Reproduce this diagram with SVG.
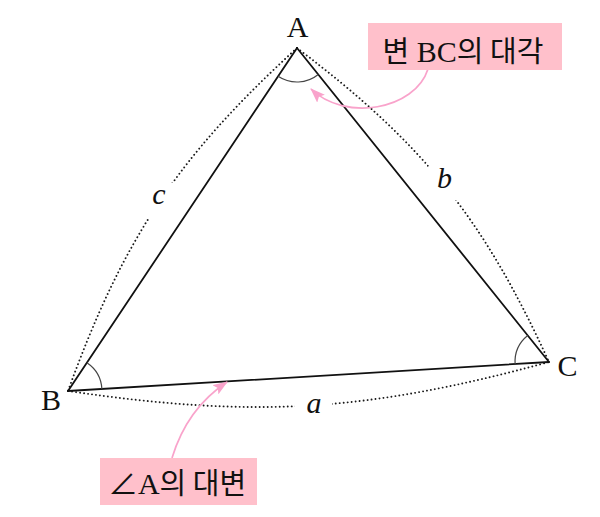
<svg xmlns="http://www.w3.org/2000/svg" width="600" height="517" viewBox="0 0 600 517">
  <style>
    .side { fill: none; stroke: #111; stroke-width: 1.8; stroke-linecap: round; }
    .dots { fill: none; stroke: #1a1a1a; stroke-width: 1.9; stroke-dasharray: 0.01 4; stroke-linecap: round; }
    .ang { fill: none; stroke: #444; stroke-width: 1.2; }
    .gap { fill: #fff; stroke: none; }
    .vtx { font-family: "Liberation Serif", "Times New Roman", serif; font-size: 30px; fill: #111; text-anchor: middle; }
    .len { font-family: "Liberation Serif", "Times New Roman", serif; font-style: italic; font-size: 30px; fill: #111; text-anchor: middle; }
    .call { fill: #FFC0CB; stroke: none; }
    .ctext { font-family: "Liberation Serif", "Noto Sans CJK KR", serif; font-size: 30px; fill: #111; text-anchor: middle; }
    .ko { font-family: "Noto Sans CJK KR", sans-serif; font-size: 29px; }
    .parrow { fill: none; stroke: #F9A3CB; stroke-width: 1.7; marker-end: url(#arr); }
  </style>
  <defs>
    <marker id="arr" markerWidth="15" markerHeight="11" refX="14" refY="5.5" orient="auto" markerUnits="userSpaceOnUse" viewBox="0 0 15 11">
      <path d="M0,0 L15,5.5 L0,11 L3,5.5 z" fill="#F9A3CB"/>
    </marker>
  </defs>

  <g id="connectors">
    <!-- dotted length arcs -->
    <path id="arc-c" class="dots" d="M297,48 C177.7,156.9 122.9,239.1 68,391"/>
    <path id="arc-b" class="dots" d="M297,48 C422.8,143 483.5,218.6 549,362"/>
    <path id="arc-a" class="dots" d="M68,391 C254.7,418.5 367,411.7 549,362"/>
    <rect class="gap" x="147.5" y="183" width="28" height="36"/>
    <rect class="gap" x="428.5" y="165.5" width="29" height="35"/>
    <rect class="gap" x="295" y="390" width="37" height="30"/>
    <!-- triangle sides -->
    <path id="side-AB" class="side" d="M297,48 L68,391"/>
    <path id="side-BC" class="side" d="M68,391 L549,362"/>
    <path id="side-CA" class="side" d="M549,362 L297,48"/>
    <!-- angle marks -->
    <path class="ang" d="M278.1,76.3 A34,34 0 0 0 318.3,74.5"/>
    <path class="ang" d="M86.9,362.7 A34,34 0 0 1 101.9,389"/>
    <path class="ang" d="M527.7,335.5 A34,34 0 0 0 515.1,364"/>
    <!-- callout arrows -->
    <path id="arrow-top" class="parrow" d="M428,69 C415,110 345,122 311,89"/>
    <path id="arrow-bottom" class="parrow" d="M172,458 C182,425 200,400 227,382"/>
  </g>

  <g id="vertex-A"><text class="vtx" x="297.5" y="36.5">A</text></g>
  <g id="vertex-B"><text class="vtx" x="51" y="410">B</text></g>
  <g id="vertex-C"><text class="vtx" x="567.5" y="376">C</text></g>

  <g id="label-a"><text class="len" x="314" y="412.5">a</text></g>
  <g id="label-b"><text class="len" x="444.5" y="188">b</text></g>
  <g id="label-c"><text class="len" x="159" y="204">c</text></g>

  <g id="callout-top">
    <rect class="call" x="368" y="23" width="194" height="47"/>
    <text class="ctext" x="463" y="62"><tspan class="ko">변</tspan> BC<tspan class="ko">의 대각</tspan></text>
  </g>
  <g id="callout-bottom">
    <rect class="call" x="100" y="458" width="157" height="47"/>
    <text class="ctext" x="177" y="494">∠A<tspan class="ko">의 대변</tspan></text>
  </g>
</svg>
